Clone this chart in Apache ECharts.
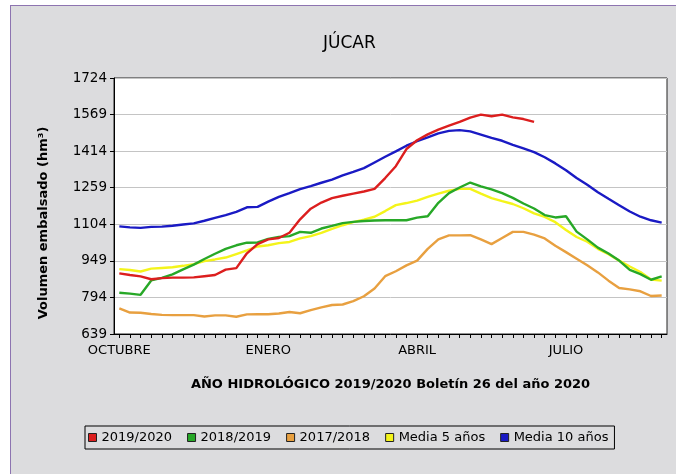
<!DOCTYPE html>
<html>
<head>
<meta charset="utf-8">
<script src="https://cdn.jsdelivr.net/npm/echarts@6/dist/echarts.min.js"></script>
<style>
  html, body { margin: 0; padding: 0; background: #fff; }
  #panel {
    position: absolute; left: 10px; top: 5px; width: 700px; height: 500px;
    background: #dcdcde; border-left: 1px solid #8d74b0; border-top: 1px solid #8d74b0;
  }
  #chart { position: absolute; left: 0; top: 0; width: 676px; height: 474px; }
</style>
</head>
<body>
<div id="panel"></div>
<div id="chart"></div>
<script>
// semanas del año hidrológico (octubre -> septiembre)
const weeks = Array.from({ length: 52 }, (_, i) => i + 1)
const monthLabels = ['OCTUBRE', 'ENERO', 'ABRIL', 'JULIO']
const monthWeekIndex = [0, 14, 28, 42]
const yTicks = [639, 794, 949, 1104, 1259, 1414, 1569, 1724]

const legendNames = ['2019/2020', '2018/2019', '2017/2018', 'Media 5 años', 'Media 10 años']

const y2019 = [896, 889, 883, 871, 876, 878, 878, 879, 884, 889, 912, 918, 981, 1020, 1040, 1046,
  1068, 1125, 1170, 1196, 1215, 1225, 1234, 1243, 1254, 1300, 1350, 1423, 1460, 1485, 1505, 1522,
  1538, 1556, 1569, 1562, 1569, 1557, 1550, 1538]
const y2018 = [814, 810, 805, 866, 877, 892, 913, 933, 957, 979, 1000, 1015, 1026, 1027, 1042, 1050,
  1054, 1072, 1068, 1086, 1097, 1109, 1114, 1118, 1120, 1121, 1121, 1121, 1132, 1138, 1195, 1236,
  1260, 1281, 1265, 1252, 1236, 1216, 1192, 1171, 1143, 1133, 1138, 1073, 1040, 1005, 980, 950,
  911, 893, 869, 883]
const y2017 = [748, 730, 729, 724, 720, 719, 719, 719, 713, 718, 718, 712, 722, 723, 723, 726,
  732, 727, 740, 752, 762, 764, 778, 799, 832, 884, 905, 930, 950, 1000, 1040, 1057,
  1057, 1058, 1040, 1020, 1046, 1072, 1072, 1060, 1044, 1013, 986, 958, 930, 900, 865, 834,
  828, 820, 800, 802]
const media5 = [914, 910, 904, 916, 919, 922, 928, 935, 948, 955, 963, 978, 993, 1010, 1015, 1024,
  1029, 1044, 1054, 1068, 1085, 1100, 1113, 1124, 1136, 1160, 1185, 1194, 1204, 1220, 1234, 1246,
  1254, 1254, 1234, 1215, 1202, 1190, 1172, 1150, 1135, 1113, 1080, 1050, 1030, 1000, 977, 950,
  925, 902, 870, 865]
const media10 = [1095, 1091, 1089, 1093, 1094, 1098, 1103, 1108, 1119, 1131, 1143, 1157, 1176, 1178,
  1200, 1220, 1236, 1253, 1266, 1280, 1293, 1311, 1326, 1342, 1366, 1390, 1413, 1437, 1456, 1472,
  1489, 1500, 1503, 1498, 1484, 1470, 1458, 1441, 1426, 1410, 1388, 1362, 1333, 1300, 1272, 1240,
  1212, 1185, 1158, 1136, 1121, 1111]

const colors = ['#dc1e1e', '#27a827', '#e8a040', '#f4f41a', '#1a1ac4']
const seriesData = [y2019, y2018, y2017, media5, media10]

const font = 'DejaVu Sans'
const chart = echarts.init(document.getElementById('chart'))

chart.setOption({
  backgroundColor: 'transparent',
  color: colors,
  animation: false,
  textStyle: { fontFamily: font },
  title: {
    text: 'JÚCAR',
    left: 318,
    top: 30,
    textStyle: { fontFamily: font, fontSize: 17, fontWeight: 'normal', color: '#000' }
  },
  legend: {
    data: legendNames,
    left: 85,
    top: 426,
    icon: 'rect',
    itemWidth: 8,
    itemHeight: 8,
    itemGap: 15,
    padding: [5, 6, 5, 3],
    borderColor: '#000',
    borderWidth: 1,
    itemStyle: { borderColor: '#222', borderWidth: 1 },
    textStyle: { fontFamily: font, fontSize: 13, color: '#000' }
  },
  grid: {
    left: 114,
    top: 78,
    right: 9,
    bottom: 140,
    show: true,
    backgroundColor: '#fff',
    borderColor: '#222',
    borderWidth: 1
  },
  xAxis: {
    type: 'category',
    data: weeks,
    boundaryGap: true,
    name: 'AÑO HIDROLÓGICO 2019/2020 Boletín 26 del año 2020',
    nameLocation: 'middle',
    nameGap: 44,
    nameTextStyle: { fontFamily: font, fontSize: 13, fontWeight: 'bold', color: '#000' },
    axisLine: { lineStyle: { color: '#000', width: 1 } },
    axisTick: { show: true, interval: 0, alignWithLabel: true, length: 4, lineStyle: { color: '#000' } },
    axisLabel: {
      interval: 0,
      margin: 10,
      fontFamily: font,
      fontSize: 13,
      color: '#000',
      formatter: (v, i) => {
        const k = monthWeekIndex.indexOf(i)
        return k >= 0 ? monthLabels[k] : ''
      }
    },
    splitLine: { show: false }
  },
  yAxis: {
    type: 'value',
    min: yTicks[0],
    max: yTicks[yTicks.length - 1],
    interval: 155,
    name: 'Volumen embalsado (hm³)',
    nameLocation: 'middle',
    nameGap: 64,
    nameTextStyle: { fontFamily: font, fontSize: 13, fontWeight: 'bold', color: '#000', padding: [0, 34, 0, 0] },
    axisLine: { show: true, lineStyle: { color: '#000', width: 1 } },
    axisTick: { show: true, length: 4, lineStyle: { color: '#000' } },
    axisLabel: { fontFamily: font, fontSize: 13.5, color: '#000', margin: 7, formatter: v => String(v) },
    splitLine: { show: true, lineStyle: { color: '#c4c4c4', width: 1 } }
  },
  series: seriesData.map((d, i) => ({
    name: legendNames[i],
    type: 'line',
    data: d,
    showSymbol: false,
    symbol: 'none',
    lineStyle: { width: 2.4, color: colors[i] },
    itemStyle: { color: colors[i] },
    z: 10 - i
  }))
})
</script>
</body>
</html>
